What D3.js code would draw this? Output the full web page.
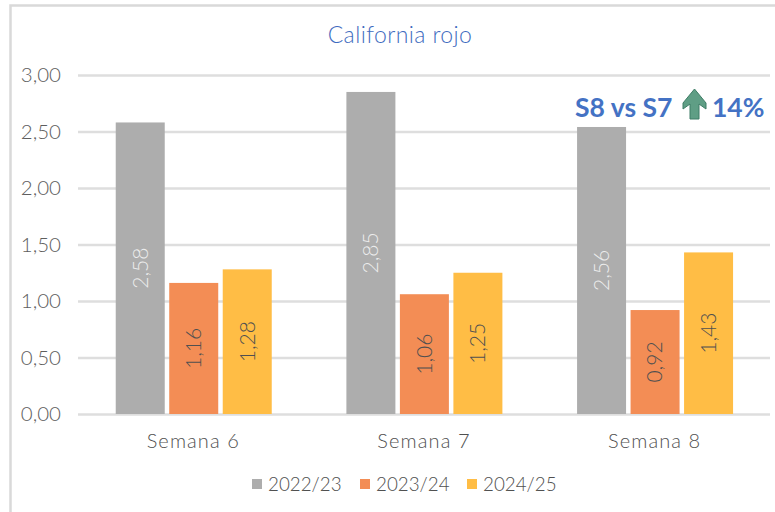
<!DOCTYPE html>
<html>
<head>
<meta charset="utf-8">
<script src="https://cdn.jsdelivr.net/npm/d3@7"></script>
<style>
  html, body { margin: 0; padding: 0; background: #fff; }
  svg { display: block; font-family: "Lato", "Open Sans", sans-serif; }
</style>
</head>
<body>
<div id="chart"></div>
<script>
const weeks = ["Semana 6", "Semana 7", "Semana 8"];
const seasons = ["2022/23", "2023/24", "2024/25"];
const colors = ["#adadad", "#f38d55", "#ffbd45"];

// bar heights
const values2223 = [2.58, 2.85, 2.54];
const values2324 = [1.16, 1.06, 0.92];
const values2425 = [1.28, 1.25, 1.43];
// printed labels (the third grey bar is labelled 2,56 in the original)
const labels2223 = ["2,58", "2,85", "2,56"];
const labels2324 = ["1,16", "1,06", "0,92"];
const labels2425 = ["1,28", "1,25", "1,43"];
const yTicks = [0, 0.5, 1, 1.5, 2, 2.5, 3];

const seriesValues = [values2223, values2324, values2425];
const seriesLabels = [labels2223, labels2324, labels2425];
const labelColors = ["#ececec", "#505050", "#505050"];

const width = 775, height = 512;
const svg = d3.select("#chart").append("svg")
  .attr("width", width)
  .attr("height", height);

// marco del gráfico
svg.append("path")
  .attr("d", "M10.5,512V5.5H775")
  .attr("fill", "none")
  .attr("stroke", "#d9d9d9")
  .attr("stroke-width", 2.5);

const x = d3.scaleBand().domain(weeks).range([78, 770]);
const y = d3.scaleLinear().domain([0, 3]).range([414, 75]);

const barStep = 53.5, barWidth = 49;
const barsCenter = d => x(d) + x.bandwidth() / 2 + 0.4;

// eje Y y rejilla
const yAxis = svg.append("g")
  .attr("transform", "translate(78,0)")
  .call(d3.axisLeft(y).tickValues(yTicks).tickSize(-692).tickPadding(17)
    .tickFormat(d => d3.format(".2f")(d).replace(".", ",")));
yAxis.select(".domain").remove();
yAxis.selectAll("line").attr("stroke", "#dedede").attr("stroke-width", 2.5);
yAxis.selectAll("text")
  .attr("fill", "#5e5e5e")
  .attr("font-size", 20.5)
  .attr("font-weight", 300)
  .attr("font-family", "Lato");

// barras
seasons.forEach((s, i) => {
  const g = svg.append("g");
  const offset = (i - 1) * barStep - barWidth / 2;
  g.selectAll("rect")
    .data(weeks)
    .enter()
    .append("rect")
    .attr("x", d => barsCenter(d) + offset)
    .attr("y", (d, j) => y(seriesValues[i][j]))
    .attr("width", barWidth)
    .attr("height", (d, j) => y(0) - y(seriesValues[i][j]))
    .attr("fill", colors[i]);

  g.selectAll("text")
    .data(weeks)
    .enter()
    .append("text")
    .attr("transform", (d, j) => {
      const cx = barsCenter(d) + offset + barWidth / 2;
      const cy = (y(seriesValues[i][j]) + y(0)) / 2;
      return `translate(${cx},${cy}) rotate(-90)`;
    })
    .attr("text-anchor", "middle")
    .attr("dy", "0.35em")
    .attr("font-size", 21)
    .attr("font-weight", 300)
    .attr("fill", labelColors[i])
    .text((d, j) => seriesLabels[i][j]);
});

// eje X
svg.append("g")
  .selectAll("text")
  .data(weeks)
  .enter()
  .append("text")
  .attr("x", d => x(d) + x.bandwidth() / 2)
  .attr("y", 448)
  .attr("text-anchor", "middle")
  .attr("font-size", 20)
  .attr("font-weight", 300)
  .attr("letter-spacing", 1.1)
  .attr("fill", "#505050")
  .text(d => d);

// título
svg.append("text")
  .attr("x", 400)
  .attr("y", 43)
  .attr("text-anchor", "middle")
  .attr("font-size", 23)
  .attr("font-weight", 300)
  .attr("letter-spacing", 0.4)
  .attr("fill", "#3f6cc0")
  .text("California rojo");

// leyenda
const legendX = [252, 360, 467];
const legend = svg.append("g");
seasons.forEach((s, i) => {
  legend.append("rect")
    .attr("x", legendX[i])
    .attr("y", 479)
    .attr("width", 10)
    .attr("height", 10)
    .attr("fill", colors[i]);
  legend.append("text")
    .attr("x", legendX[i] + 16)
    .attr("y", 491)
    .attr("font-size", 18.8)
    .attr("font-weight", 300)
    .attr("fill", "#505050")
    .text(s);
});

// anotación
const note = svg.append("g")
  .attr("fill", "#4472c4")
  .attr("font-size", 26.5)
  .attr("font-weight", 700);
note.append("text").attr("x", 575).attr("y", 117).text("S8 vs S7");
note.append("text").attr("x", 712).attr("y", 117).text("14%");

svg.append("path")
  .attr("d", "M694.5,89 L706,103 L706,109 L699,104 L699,119 L690,119 L690,104 L683,109 L683,103 Z")
  .attr("fill", "#5f9e85")
  .attr("stroke", "#3f7d66")
  .attr("stroke-width", 1);
</script>
</body>
</html>
